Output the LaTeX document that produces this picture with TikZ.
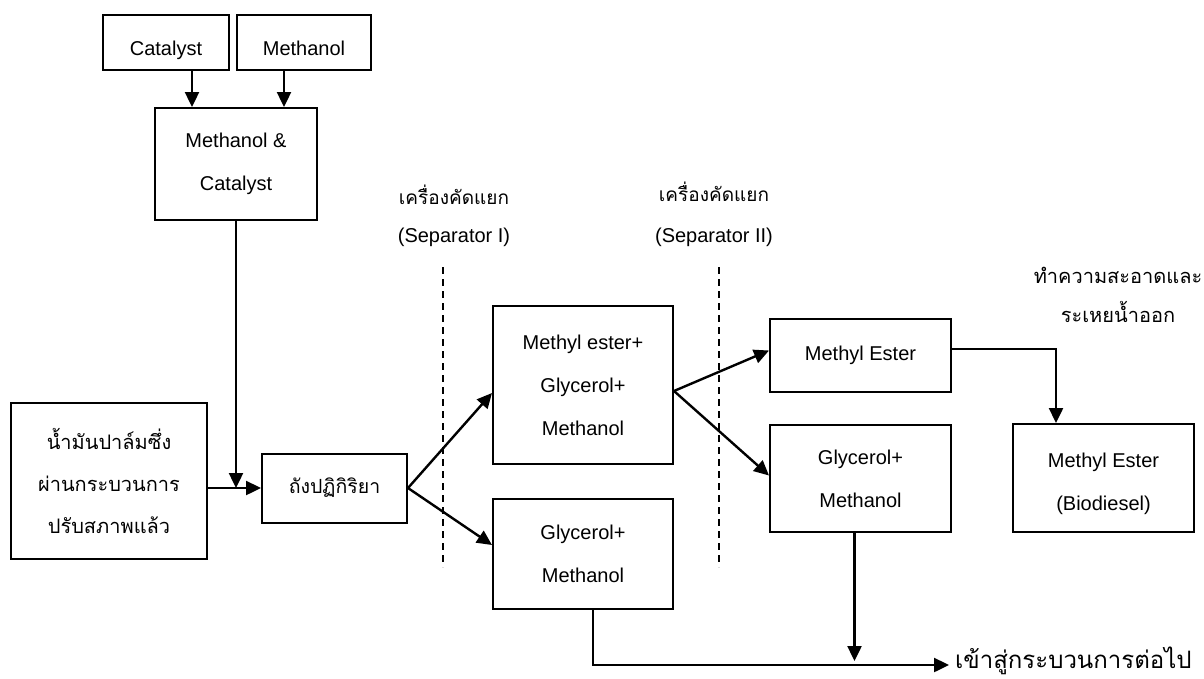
\documentclass[tikz,border=0pt]{standalone}
\usepackage{fontspec}
\setmainfont{Liberation Sans}
\newfontfamily\thaifont[Script=Thai]{Loma}
\usetikzlibrary{arrows.meta,calc}
\tikzset{
  box/.style={draw, line width=2pt, align=center, inner sep=0pt,
    font=\fontsize{20}{43}\selectfont},
  thaibox/.style={box, font=\thaifont\fontsize{20}{42}\selectfont},
  conn/.style={line width=2.4pt, -{Triangle[length=15pt,width=14pt]}},
  seprule/.style={line width=1.8pt, dash pattern=on 7pt off 5pt},
  thailabel/.style={inner sep=0pt, font=\thaifont\fontsize{19}{24}\selectfont},
  latlabel/.style={inner sep=0pt, font=\fontsize{20}{24}\selectfont},
  boxtext/.style={inner sep=0pt, align=center, font=\fontsize{20}{43}\selectfont},
}
\begin{document}
\begin{tikzpicture}[x=1pt,y=-1pt]
\useasboundingbox (0,0) rectangle (1204,678);
% boxes
\node[box, minimum width=126pt, minimum height=55pt] (cat) at (166,42.5) {};
\node[boxtext, anchor=base] (cattext) at (166,55) {Catalyst};
\node[box, minimum width=134pt, minimum height=55pt] (meth) at (304,42.5) {};
\node[boxtext, anchor=base] (methtext) at (304,55) {Methanol};
\node[box, minimum width=162pt, minimum height=112pt] (mc) at (236,164) {Methanol \&\\Catalyst};
\node[thaibox, minimum width=196pt, minimum height=156pt] (oil) at (109,481) {น้ำมันปาล์มซึ่ง\\ผ่านกระบวนการ\\ปรับสภาพแล้ว};
\node[thaibox, minimum width=145pt, minimum height=69pt, font=\thaifont\fontsize{19.5}{42}\selectfont] (reac) at (334.5,488) {ถังปฏิกิริยา};
\node[box, minimum width=180pt, minimum height=158pt] (mix) at (583,385) {Methyl ester+\\Glycerol+\\Methanol};
\node[box, minimum width=180pt, minimum height=110pt] (gm1) at (583,554) {Glycerol+\\Methanol};
\node[box, minimum width=181pt, minimum height=73pt] (me) at (860.5,355.5) {Methyl Ester};
\node[box, minimum width=181pt, minimum height=107pt] (gm2) at (860.5,478.5) {Glycerol+\\Methanol};
\node[box, minimum width=181pt, minimum height=108pt] (bio) at (1103.5,478) {};
\node[boxtext] (biotext) at (1103.5,484) {Methyl Ester\\(Biodiesel)};
% labels
\node[thailabel] (s1t) at (454,195) {เครื่องคัดแยก};
\node[latlabel] (s1e) at (454,237) {(Separator I)};
\node[thailabel] (s2t) at (714,192) {เครื่องคัดแยก};
\node[latlabel] (s2e) at (714,237) {(Separator II)};
\node[thailabel, font=\thaifont\fontsize{20}{24}\selectfont] (cl1) at (1118,275) {ทำความสะอาดและ};
\node[thailabel, font=\thaifont\fontsize{20}{24}\selectfont] (cl2) at (1118,312) {ระเหยน้ำออก};
\coordinate (out) at (949,665);
\node[thailabel, anchor=west, font=\thaifont\fontsize{24}{26}\selectfont] (next) at (955,661) {เข้าสู่กระบวนการต่อไป};
% separators
\coordinate (d1a) at (443,267); \coordinate (d1b) at (443,567);
\coordinate (d2a) at (719,267); \coordinate (d2b) at (719,567);
\draw[seprule] (d1a) -- (d1b);
\draw[seprule] (d2a) -- (d2b);
% connectors
\coordinate (c1) at (192,0);
\coordinate (c2) at (284,0);
\draw[conn] (cat.south -| c1) -- (mc.north -| c1);
\draw[conn] (meth.south -| c2) -- (mc.north -| c2);
\draw[conn] (mc.south) -- (mc.south |- reac.west);
\draw[conn] (oil.east |- reac.west) -- (reac.west);
\draw[conn] (reac.east) -- ($(mix.west)+(0,8)$);
\draw[conn] (reac.east) -- ($(gm1.west)+(0,-9)$);
\draw[conn] ($(mix.east)+(0,6)$) -- ($(me.west)+(0,-5)$);
\draw[conn] ($(mix.east)+(0,6)$) -- ($(gm2.west)+(0,-3)$);
\coordinate (mebend) at (1056,349);
\draw[conn] ($(me.east)+(0,-6.5)$) -- (mebend) -- (mebend |- bio.north);
\coordinate (g1) at ($(gm1.south)+(10,0)$);
\draw[conn] (g1) -- (g1 |- out) -- (out);
\coordinate (g2) at ($(gm2.south)+(-6,0)$);
\draw[conn] (g2) -- ($(g2 |- out)+(0,-4)$);
\end{tikzpicture}
\end{document}
